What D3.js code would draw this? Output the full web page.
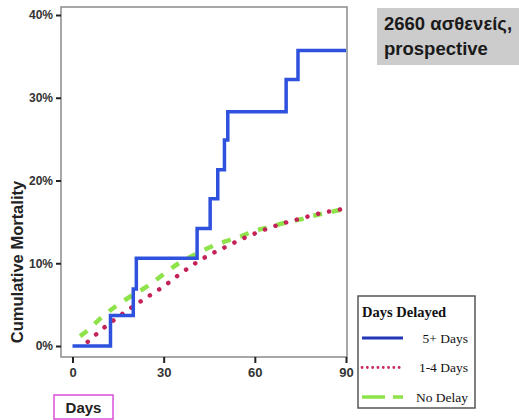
<!DOCTYPE html>
<html>
<head>
<meta charset="utf-8">
<script src="https://cdn.jsdelivr.net/npm/d3@7"></script>
<style>
  html, body { margin: 0; padding: 0; background: #fff; }
  svg { display: block; }
</style>
</head>
<body>
<script>
// ---- data (days, cumulative mortality %) ----
const xTicks = [0, 30, 60, 90];
const yTicks = [0, 10, 20, 30, 40];
const seriesNames = ["5+ Days", "1-4 Days", "No Delay"];
const fiveDaysX = [0, 12.5, 20, 21, 41, 45.3, 47.8, 50, 51.1, 70.3, 74.2, 90];
const fiveDaysY = [0, 3.7, 6.9, 10.6, 14.2, 17.8, 21.3, 24.9, 28.3, 32.2, 35.7, 35.7];
const oneFourX = [5, 10, 15, 20, 25, 30, 35, 40, 45, 50, 55, 60, 65, 70, 75, 80, 85, 90];
const oneFourY = [0.5, 2.1, 3.5, 4.8, 6.0, 7.2, 8.6, 9.9, 11.0, 11.9, 12.8, 13.6, 14.3, 14.9, 15.4, 15.9, 16.3, 16.6];
const noDelayX = [2.5, 5, 10, 15, 20, 25, 30, 35, 40, 45, 50, 55, 60, 65, 70, 75, 80, 85, 90];
const noDelayY = [1.2, 1.9, 3.6, 5.0, 6.2, 7.3, 8.7, 10.0, 11.0, 11.9, 12.6, 13.2, 13.9, 14.4, 14.9, 15.3, 15.8, 16.2, 16.6];
const legendTitle = "Days Delayed";
const noteLines = ["2660 ασθενείς,", "prospective"];
const xTitle = "Days";
const yTitle = "Cumulative Mortality";

const W = 519, H = 420;
const svg = d3.select("body").append("svg").attr("width", W).attr("height", H);

const frame = {left: 61, right: 347, top: 7, bottom: 357};
const x = d3.scaleLinear().domain([0, 90]).range([72.5, 346]);
const y = d3.scaleLinear().domain([0, 40]).range([346, 15]);

// frame
svg.append("rect")
  .attr("x", frame.left).attr("y", frame.top)
  .attr("width", frame.right - frame.left).attr("height", frame.bottom - frame.top)
  .attr("fill", "none").attr("stroke", "#8a8a8a").attr("stroke-width", 1.5);

// axes
const yAxis = d3.axisLeft(y).tickValues(yTicks).tickFormat(d => d + "%").tickSize(5).tickPadding(3);
const gy = svg.append("g").attr("transform", `translate(${frame.left},0)`).call(yAxis);
gy.select(".domain").remove();
gy.selectAll(".tick line").attr("stroke", "#222").attr("stroke-width", 2);
gy.selectAll(".tick text").attr("font-family", "Liberation Sans, Arial, sans-serif")
  .attr("font-size", 12).attr("font-weight", "bold").attr("fill", "#333");

const xAxis = d3.axisBottom(x).tickValues(xTicks).tickSize(6).tickPadding(5);
const gx = svg.append("g").attr("transform", `translate(0,${frame.bottom})`).call(xAxis);
gx.select(".domain").remove();
gx.selectAll(".tick line").attr("stroke", "#222").attr("stroke-width", 2);
gx.selectAll(".tick text").attr("font-family", "Liberation Sans, Arial, sans-serif")
  .attr("font-size", 13).attr("font-weight", "bold").attr("fill", "#333");

// lines
const smooth = d3.line().x(d => x(d[0])).y(d => y(d[1])).curve(d3.curveMonotoneX);
const step = d3.line().x(d => x(d[0])).y(d => y(d[1])).curve(d3.curveStepAfter);

const noDelay = noDelayX.map((v, i) => [v, noDelayY[i]]);
const oneFour = oneFourX.map((v, i) => [v, oneFourY[i]]);
const fiveDays = fiveDaysX.map((v, i) => [v, fiveDaysY[i]]);

svg.append("path").attr("d", smooth(noDelay)).attr("fill", "none")
  .attr("stroke", "#8ee24a").attr("stroke-width", 4.5).attr("stroke-dasharray", "9,10");
svg.append("path").attr("d", smooth(oneFour)).attr("fill", "none")
  .attr("stroke", "#c42358").attr("stroke-width", 4.5).attr("stroke-linecap", "round")
  .attr("stroke-dasharray", "0.1,11");
svg.append("path").attr("d", step(fiveDays)).attr("fill", "none")
  .attr("stroke", "#2f52de").attr("stroke-width", 3.5);

// axis titles
svg.append("text").attr("transform", "translate(23,262) rotate(-90)")
  .attr("text-anchor", "middle").attr("font-family", "Liberation Sans, Arial, sans-serif")
  .attr("font-size", 16.5).attr("font-weight", "bold").attr("fill", "#222").text(yTitle);

svg.append("rect").attr("x", 54).attr("y", 395).attr("width", 59).attr("height", 24)
  .attr("fill", "none").attr("stroke", "#d94fd9").attr("stroke-width", 1.5);
svg.append("text").attr("x", 83.5).attr("y", 413).attr("text-anchor", "middle")
  .attr("font-family", "Liberation Sans, Arial, sans-serif").attr("font-size", 15)
  .attr("font-weight", "bold").attr("fill", "#222").text(xTitle);

// note box
svg.append("rect").attr("x", 377).attr("y", 8).attr("width", 142).attr("height", 57).attr("fill", "#cccccc");
svg.selectAll("text.note").data(noteLines).join("text").attr("class", "note")
  .attr("x", 384).attr("y", (d, i) => 29.5 + i * 25)
  .attr("font-family", "Liberation Sans, Arial, sans-serif").attr("font-size", 18.5)
  .attr("font-weight", "bold").attr("fill", "#1a1a1a").text(d => d);

// legend
const lg = svg.append("g");
lg.append("rect").attr("x", 358).attr("y", 296).attr("width", 117).attr("height", 112)
  .attr("fill", "#fff").attr("stroke", "#555").attr("stroke-width", 1.5);
lg.append("text").attr("x", 362).attr("y", 317).attr("font-family", "Liberation Serif, Times New Roman, serif")
  .attr("font-size", 14.5).attr("font-weight", "bold").attr("fill", "#111").text(legendTitle);
const rows = [
  {name: seriesNames[0], color: "#2236b8", w: 3.2, dash: null, cap: "butt"},
  {name: seriesNames[1], color: "#cc2a5e", w: 2.8, dash: "0.1,5.2", cap: "round"},
  {name: seriesNames[2], color: "#8ee24a", w: 3.5, dash: "23,8,10,100", cap: "butt"}
];
rows.forEach((r, i) => {
  const yy = 338 + i * 29.5;
  const ln = lg.append("line").attr("x1", 362).attr("x2", 403).attr("y1", yy).attr("y2", yy)
    .attr("stroke", r.color).attr("stroke-width", r.w).attr("stroke-linecap", r.cap);
  if (r.dash) ln.attr("stroke-dasharray", r.dash);
  lg.append("text").attr("x", 468).attr("y", yy + 4.5).attr("text-anchor", "end")
    .attr("font-family", "Liberation Serif, Times New Roman, serif").attr("font-size", 13.5)
    .attr("fill", "#111").text(r.name);
});
</script>
</body>
</html>
